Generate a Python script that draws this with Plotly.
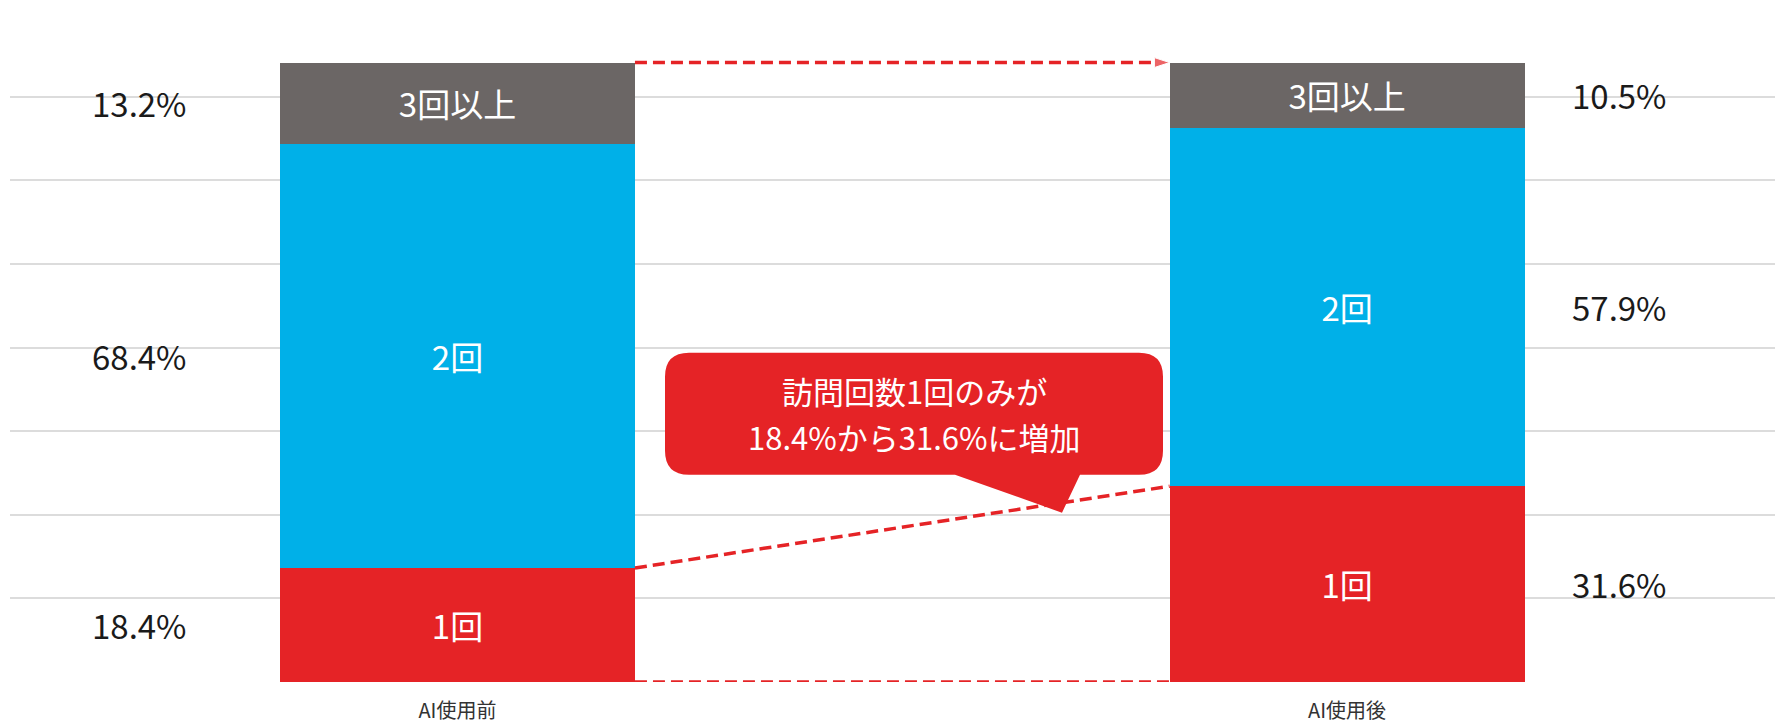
import plotly.graph_objects as go

# Visit-count shares before / after AI adoption (percent)
periods = ["AI使用前", "AI使用後"]
segments = ["1回", "2回", "3回以上"]
share_once = [18.4, 31.6]
share_twice = [68.4, 57.9]
share_three_plus = [13.2, 10.5]
callout_lines = ["訪問回数1回のみが", "18.4%から31.6%に増加"]

colors = {"1回": "#E52326", "2回": "#00B0E8", "3回以上": "#6B6665"}
RED = "#E52326"
FONT = "Noto Sans CJK JP"

W, H = 1775, 724
ML, MR, MT, MB = 10, 0, 13, 42
X0, X1 = -0.503, 1.481
Y0, Y1 = 0, 108
BAR_W = 0.399

plot_w = W - ML - MR
plot_h = H - MT - MB


def px_x(p):
    return X0 + (p - ML) / plot_w * (X1 - X0)


def px_dy(d):
    return d * (Y1 - Y0) / plot_h


xs = list(range(len(periods)))
series = {"1回": share_once, "2回": share_twice, "3回以上": share_three_plus}

fig = go.Figure()
for name in segments:
    fig.add_trace(go.Bar(
        x=xs, y=series[name], width=BAR_W, name=name,
        marker=dict(color=colors[name], line=dict(width=0)),
        text=[name] * len(xs), textposition="inside",
        insidetextanchor="middle", textangle=0, constraintext="none",
        textfont=dict(family=FONT, size=33, color="white"),
        hoverinfo="skip", showlegend=False,
    ))

# Percentage labels beside each bar, centred on their segment
label_x = [-0.357, 1.306]
for i in xs:
    base = 0.0
    for name in segments:
        v = series[name][i]
        fig.add_annotation(
            x=label_x[i], y=base + v / 2, xref="x", yref="y",
            text=f"{v:.1f}%", showarrow=False,
            font=dict(family=FONT, size=33, color="#1a1a1a"),
        )
        base += v

totals = [share_once[i] + share_twice[i] + share_three_plus[i] for i in xs]
left_edge_r = xs[0] + BAR_W / 2
right_edge_l = xs[1] - BAR_W / 2
dash = "12px,6px"
LW = 3.5

# Connector between bar tops with an arrowhead
fig.add_trace(go.Scatter(
    x=[left_edge_r, right_edge_l], y=[totals[0], totals[1]],
    mode="lines+markers",
    line=dict(color=RED, width=LW, dash=dash),
    marker=dict(symbol="arrow", angleref="previous", size=[0, 16], color=RED),
    hoverinfo="skip", showlegend=False,
))
# Connector between the tops of the 1回 segments
fig.add_trace(go.Scatter(
    x=[left_edge_r, right_edge_l], y=[share_once[0], share_once[1]],
    mode="lines", line=dict(color=RED, width=LW, dash=dash),
    hoverinfo="skip", showlegend=False,
))
# Connector along the baseline
fig.add_trace(go.Scatter(
    x=[left_edge_r, right_edge_l], y=[0, 0],
    mode="lines", line=dict(color=RED, width=LW, dash=dash),
    hoverinfo="skip", showlegend=False,
))

# Callout bubble pointing at the 1回 connector
tip_px = 1062
frac = (px_x(tip_px) - left_edge_r) / (right_edge_l - left_edge_r)
tip_y = share_once[0] + frac * (share_once[1] - share_once[0]) - px_dy(10)
tip_x = px_x(tip_px)
ybot = tip_y + px_dy(38)
ytop = ybot + px_dy(122)
bx0, bx1 = px_x(665), px_x(1163)
tl, tr = px_x(955), px_x(1080)
rx = 24 * (X1 - X0) / plot_w
ry = px_dy(24)
path = (
    f"M {bx0 + rx},{ytop} L {bx1 - rx},{ytop} Q {bx1},{ytop} {bx1},{ytop - ry} "
    f"L {bx1},{ybot + ry} Q {bx1},{ybot} {bx1 - rx},{ybot} "
    f"L {tr},{ybot} L {tip_x},{tip_y} L {tl},{ybot} "
    f"L {bx0 + rx},{ybot} Q {bx0},{ybot} {bx0},{ybot + ry} "
    f"L {bx0},{ytop - ry} Q {bx0},{ytop} {bx0 + rx},{ytop} Z"
)
fig.add_shape(type="path", path=path, xref="x", yref="y",
              fillcolor=RED, line=dict(width=0), layer="above")
mid_y = (ybot + ytop) / 2
gap = px_dy(23)
for k, line in enumerate(callout_lines):
    fig.add_annotation(
        x=(bx0 + bx1) / 2, y=mid_y + gap * (1 if k == 0 else -1),
        xref="x", yref="y", text=line, showarrow=False,
        font=dict(family=FONT, size=31, color="white"),
    )

fig.update_layout(
    width=W, height=H, barmode="stack",
    margin=dict(l=ML, r=MR, t=MT, b=MB, pad=0),
    paper_bgcolor="white", plot_bgcolor="white",
    xaxis=dict(
        range=[X0, X1], tickvals=xs, ticktext=periods,
        showgrid=False, zeroline=False, showline=False, ticks="",
        tickfont=dict(family=FONT, size=20, color="#333333"),
        ticklabelstandoff=15,
    ),
    yaxis=dict(
        range=[Y0, Y1], dtick=13.5, tick0=0, showticklabels=False,
        showgrid=True, gridcolor="#DCDCDC", gridwidth=2,
        zeroline=False, showline=False,
    ),
)

fig.write_html("out.html")
